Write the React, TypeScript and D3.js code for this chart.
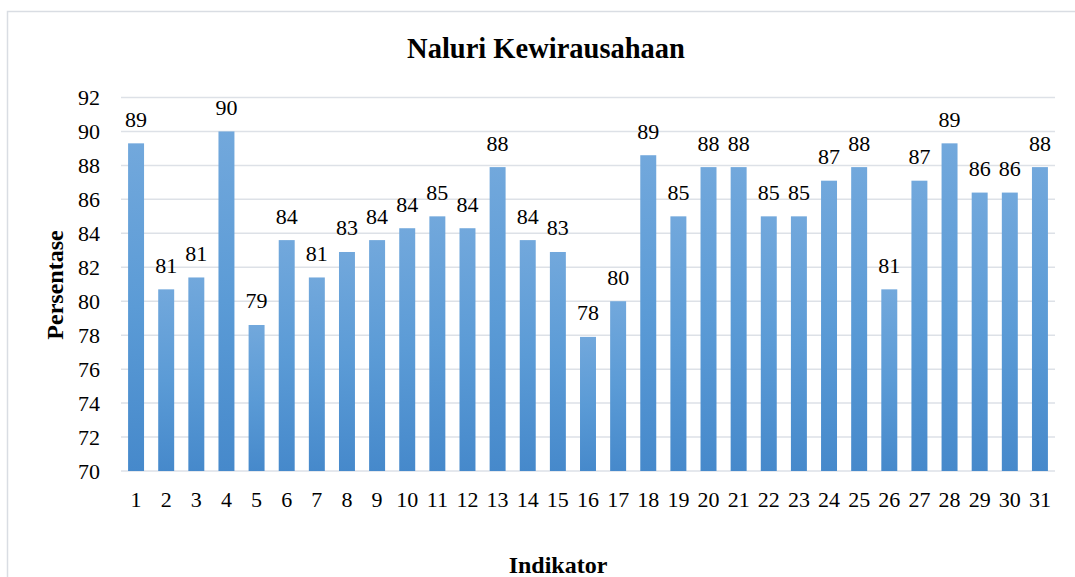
import React from 'react';
import * as d3 from 'd3';

const indicators = Array.from({ length: 31 }, (_, i) => String(i + 1));
const percentages = [
  89.3, 80.7, 81.4, 90.0, 78.6, 83.6, 81.4, 82.9, 83.6, 84.3,
  85.0, 84.3, 87.9, 83.6, 82.9, 77.9, 80.0, 88.6, 85.0, 87.9,
  87.9, 85.0, 85.0, 87.1, 87.9, 80.7, 87.1, 89.3, 86.4, 86.4,
  87.9,
];
const yTicks = [70, 72, 74, 76, 78, 80, 82, 84, 86, 88, 90, 92];

const W = 1075;
const H = 577;
const FONT = '"Liberation Serif"';

const margin = { top: 97.5, left: 121 };
const plotW = 1055 - margin.left;
const plotH = 471 - margin.top;

const x = d3.scaleBand<string>()
  .domain(indicators)
  .range([0, plotW])
  .paddingInner(0.47)
  .paddingOuter(0.235);

const y = d3.scaleLinear().domain([70, 92]).range([plotH, 0]);

const App: React.FC = () => {
  const txt = { fontFamily: FONT, fill: '#000' };
  return (
    <svg width={W} height={H} style={{ position: 'absolute', left: 0, top: 0, background: '#fff' }}>
      <defs>
        <linearGradient id="bar-grad" x1="0" y1="0" x2="0" y2="1">
          <stop offset="0%" stopColor="#72a8dc" />
          <stop offset="50%" stopColor="#5b9bd6" />
          <stop offset="100%" stopColor="#4689cb" />
        </linearGradient>
      </defs>

      {/* chart frame, runs off right and bottom edges */}
      <rect x={7.5} y={11.5} width={W} height={H} fill="#fff" stroke="#d9dde3" strokeWidth={1.5} />

      <text x={546} y={58} textAnchor="middle" fontSize={28.5} fontWeight="bold" style={txt}>
        Naluri Kewirausahaan
      </text>

      <g transform={`translate(${margin.left},${margin.top})`}>
        {yTicks.map(t => (
          <line key={`g${t}`} x1={0} x2={plotW} y1={y(t)} y2={y(t)} stroke="#dde1e7" strokeWidth={1.5} />
        ))}

        {yTicks.map(t => (
          <text key={`t${t}`} x={-21} y={y(t)} dy="0.35em" textAnchor="end" fontSize={22} style={txt}>
            {t}
          </text>
        ))}

        {percentages.map((v, i) => (
          <rect
            key={`b${i}`}
            x={x(indicators[i])}
            width={x.bandwidth()}
            y={y(v)}
            height={y(70) - y(v)}
            fill="url(#bar-grad)"
          />
        ))}

        {percentages.map((v, i) => (
          <text
            key={`v${i}`}
            x={x(indicators[i])! + x.bandwidth() / 2}
            y={y(v) - 16.5}
            textAnchor="middle"
            fontSize={22}
            style={txt}
          >
            {Math.round(v)}
          </text>
        ))}

        {indicators.map(c => (
          <text
            key={`x${c}`}
            x={x(c)! + x.bandwidth() / 2}
            y={plotH + 36}
            textAnchor="middle"
            fontSize={22}
            style={txt}
          >
            {c}
          </text>
        ))}
      </g>

      <text transform="rotate(-90)" x={-285} y={63} textAnchor="middle" fontSize={24} fontWeight="bold" style={txt}>
        Persentase
      </text>

      <text x={558} y={573} textAnchor="middle" fontSize={24} fontWeight="bold" style={txt}>
        Indikator
      </text>
    </svg>
  );
};

export default App;
